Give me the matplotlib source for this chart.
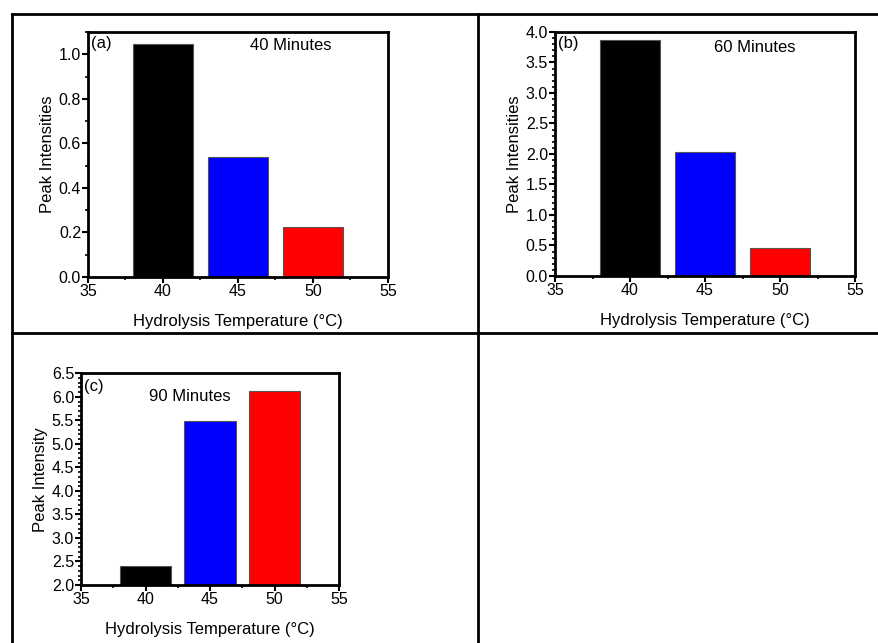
import matplotlib
matplotlib.use('Agg')
import matplotlib.pyplot as plt
from matplotlib.lines import Line2D
from matplotlib.ticker import MultipleLocator

plt.rcParams['font.family'] = ['Liberation Sans', 'DejaVu Sans']

temps = [40, 45, 50]
colors = ['#000000', '#0000ff', '#ff0000']
int_40min = [1.045, 0.54, 0.225]
int_60min = [3.86, 2.03, 0.46]
int_90min = [2.41, 5.49, 6.12]

fig = plt.figure(figsize=(8.79, 6.43), dpi=100)


def style_axis(ax, ylim, ymajor, yminor):
    ax.set_xlim(35, 55)
    ax.set_ylim(*ylim)
    ax.xaxis.set_major_locator(MultipleLocator(5))
    ax.xaxis.set_minor_locator(MultipleLocator(2.5))
    ax.yaxis.set_major_locator(MultipleLocator(ymajor))
    ax.yaxis.set_minor_locator(MultipleLocator(yminor))
    ax.tick_params(which='major', direction='out', length=4, width=1.5, labelsize=11.5, pad=1)
    ax.tick_params(which='minor', direction='out', length=2.5, width=1.2)
    for s in ax.spines.values():
        s.set_linewidth(2)
    ax.set_xlabel('Hydrolysis Temperature (°C)', fontsize=12, labelpad=11)


# (a) 40 minutes
ax = fig.add_axes([0.1001, 0.5692, 0.3413, 0.381])
ax.bar(temps, int_40min, width=4, color=colors, edgecolor='#555555', linewidth=0.8)
style_axis(ax, (0, 1.1), 0.2, 0.1)
ax.set_ylabel('Peak Intensities', fontsize=12, labelpad=3)
ax.text(0.01, 0.985, '(a)', transform=ax.transAxes, va='top', ha='left', fontsize=12)
ax.text(48.5, 1.04, '40 Minutes', ha='center', va='center', fontsize=12)

# (b) 60 minutes
ax = fig.add_axes([0.6314, 0.5708, 0.3413, 0.3795])
ax.bar(temps, int_60min, width=4, color=colors, edgecolor='#555555', linewidth=0.8)
style_axis(ax, (0, 4.0), 0.5, 0.1)
ax.set_ylabel('Peak Intensities', fontsize=12, labelpad=3)
ax.text(0.01, 0.985, '(b)', transform=ax.transAxes, va='top', ha='left', fontsize=12)
ax.text(48.3, 3.75, '60 Minutes', ha='center', va='center', fontsize=12)

# (c) 90 minutes
ax = fig.add_axes([0.0922, 0.0902, 0.2935, 0.3292])
ax.bar(temps, int_90min, width=4, color=colors, edgecolor='#555555', linewidth=0.8)
style_axis(ax, (2.0, 6.5), 0.5, 0.1)
ax.set_ylabel('Peak Intensity', fontsize=12, labelpad=3)
ax.text(0.01, 0.975, '(c)', transform=ax.transAxes, va='top', ha='left', fontsize=12)
ax.text(43.45, 6.0, '90 Minutes', ha='center', va='center', fontsize=12)

# panel frame lines
W, H = 879, 643
frame = [
    ((12, 879), (14, 14)),
    ((12, 12), (14, 643)),
    ((478, 478), (14, 643)),
    ((12, 879), (333, 333)),
]
for xs, ys in frame:
    fig.add_artist(Line2D([x / W for x in xs], [1 - y / H for y in ys],
                          color='black', linewidth=2, transform=fig.transFigure))

fig.savefig('out.png', dpi=100)
